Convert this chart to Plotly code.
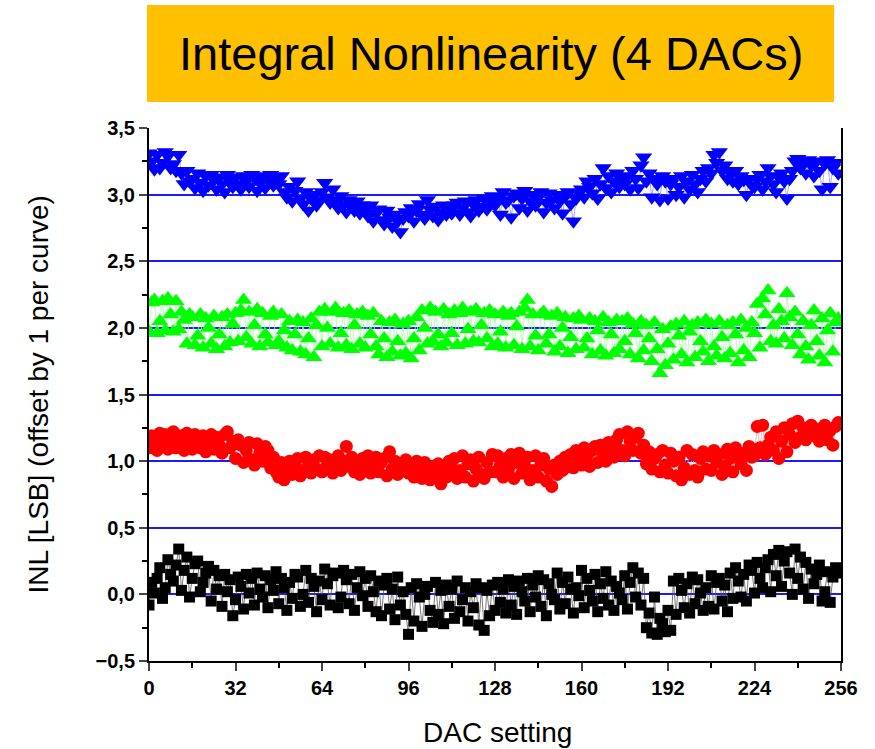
import plotly.graph_objects as go

dac = list(range(256))

inl_blue = [
    3.31, 3.25, 3.19, 3.30, 3.20, 3.24, 3.32, 3.29, 3.20, 3.23, 3.18, 3.30, 3.16, 3.08, 3.18, 3.10,
    3.12, 3.05, 3.16, 3.09, 3.03, 3.14, 3.07, 3.15, 3.11, 3.04, 3.13, 3.08, 3.02, 3.15, 3.10, 3.06,
    3.13, 3.08, 3.04, 3.14, 3.10, 3.06, 3.15, 3.12, 3.03, 3.09, 3.14, 3.05, 3.11, 3.15, 3.07, 3.13,
    3.08, 3.14, 3.02, 2.98, 3.06, 2.95, 3.03, 3.10, 2.97, 2.93, 3.02, 2.88, 2.97, 3.00, 2.92, 2.96,
    3.02, 3.09, 2.98, 2.94, 3.04, 2.96, 2.90, 2.99, 2.93, 2.87, 2.96, 2.91, 2.88, 2.95, 2.86, 2.92,
    2.88, 2.84, 2.92, 2.80, 2.86, 2.89, 2.81, 2.78, 2.88, 2.83, 2.76, 2.85, 2.80, 2.72, 2.82, 2.87,
    2.84, 2.90, 2.80, 2.88, 2.93, 2.85, 2.82, 2.96, 2.89, 2.84, 2.91, 2.81, 2.87, 2.92, 2.85, 2.89,
    2.86, 2.92, 2.94, 2.85, 2.90, 2.95, 2.87, 2.84, 2.93, 2.96, 2.88, 2.91, 2.97, 2.89, 2.94, 2.99,
    2.92, 2.98, 2.85, 3.02, 2.94, 2.96, 2.83, 2.99, 3.01, 2.90, 2.97, 3.03, 2.88, 2.95, 3.00, 2.92,
    2.98, 3.02, 2.87, 2.94, 3.01, 2.96, 2.90, 3.00, 2.95, 2.86, 2.99, 3.02, 2.93, 2.80, 2.97, 3.01,
    3.04, 2.98, 3.10, 3.06, 3.01, 3.12, 2.97, 3.08, 3.20, 3.05, 3.14, 3.02, 3.10, 3.16, 3.06, 3.12,
    3.08, 3.14, 3.04, 3.18, 3.12, 3.05, 3.22, 3.28, 3.10, 3.16, 2.98, 3.12, 3.08, 2.96, 3.14, 3.10,
    2.97, 3.08, 3.12, 3.00, 3.06, 3.14, 2.98, 3.10, 3.04, 3.15, 3.08, 3.02, 3.12, 3.18, 3.10, 3.20,
    3.16, 3.30, 3.24, 3.32, 3.18, 3.22, 3.12, 3.16, 3.10, 3.18, 3.08, 3.14, 3.11, 3.00, 3.12, 3.07,
    3.06, 3.12, 3.15, 3.04, 3.10, 3.20, 3.14, 3.08, 3.02, 3.13, 3.16, 3.10, 2.97, 3.12, 3.18, 3.25,
    3.27, 3.20, 3.24, 3.16, 3.26, 3.22, 3.14, 3.25, 3.18, 3.04, 3.23, 3.26, 3.06, 3.20, 3.24, 3.16,
]

inl_green = [
    1.97, 2.19, 2.21, 1.96, 2.05, 2.20, 1.98, 2.22, 2.10, 1.97, 2.20, 1.99, 2.12, 2.06, 1.88, 2.10,
    2.08, 1.87, 1.94, 2.10, 1.85, 2.07, 2.00, 1.88, 2.09, 1.84, 1.95, 2.08, 1.86, 2.10, 1.89, 2.03,
    2.11, 1.90, 2.13, 2.21, 1.93, 2.12, 1.88, 2.02, 2.14, 1.86, 2.11, 1.95, 1.89, 2.09, 2.12, 1.87,
    1.90, 2.10, 1.98, 1.85, 2.05, 1.83, 1.95, 2.06, 1.82, 2.04, 1.80, 1.92, 2.07, 1.78, 2.02, 2.12,
    1.86, 2.14, 2.00, 1.88, 2.12, 2.15, 1.85, 1.96, 2.11, 1.87, 2.13, 1.84, 2.02, 2.10, 1.88, 2.12,
    1.85, 2.09, 1.95, 2.11, 1.86, 1.80, 2.05, 1.92, 1.78, 2.04, 1.82, 2.06, 1.90, 1.79, 2.03, 1.81,
    2.05, 1.77, 1.92, 2.08, 1.83, 2.13, 2.00, 1.88, 2.15, 1.90, 2.12, 1.95, 1.86, 2.14, 1.89, 2.10,
    1.96, 2.13, 1.87, 2.11, 2.15, 1.88, 1.99, 2.12, 1.90, 2.14, 1.89, 2.02, 2.11, 1.92, 2.13, 1.86,
    2.10, 1.88, 1.97, 2.12, 1.85, 2.09, 2.11, 1.87, 2.01, 2.12, 1.84, 2.15, 2.21, 1.86, 2.10, 1.94,
    1.83, 2.10, 2.12, 1.88, 1.95, 2.09, 1.82, 2.11, 1.86, 2.00, 2.08, 1.81, 1.93, 2.07, 1.84, 2.09,
    2.06, 1.85, 1.92, 2.07, 1.80, 2.05, 1.98, 1.83, 2.08, 1.79, 2.04, 1.95, 1.81, 2.06, 1.84, 2.05,
    1.90, 2.07, 1.80, 2.03, 1.96, 1.77, 2.05, 1.83, 2.02, 1.92, 1.75, 2.04, 1.84, 1.66, 1.99, 1.72,
    1.88, 2.01, 1.76, 2.03, 1.94, 1.80, 2.05, 1.74, 1.97, 2.02, 1.78, 2.04, 1.90, 1.82, 2.06, 1.75,
    2.03, 1.86, 1.79, 2.05, 1.93, 1.77, 2.02, 1.81, 2.04, 1.95, 1.74, 2.06, 1.83, 2.00, 1.78, 2.04,
    1.96, 2.18, 1.85, 2.22, 2.10, 2.28, 1.90, 2.02, 1.88, 2.14, 2.05, 1.92, 2.26, 2.08, 1.87, 2.12,
    1.95, 1.80, 2.05, 1.86, 1.76, 2.02, 2.13, 1.90, 1.79, 2.07, 1.74, 1.98, 2.11, 1.82, 2.04, 2.07,
]

inl_red = [
    1.10, 1.19, 1.15, 1.08, 1.21, 1.12, 1.20, 1.09, 1.17, 1.22, 1.10, 1.14, 1.19, 1.08, 1.21, 1.13,
    1.09, 1.20, 1.16, 1.10, 1.19, 1.07, 1.13, 1.20, 1.09, 1.18, 1.12, 1.06, 1.20, 1.22, 1.10, 1.15,
    1.02, 1.16, 1.12, 0.99, 1.08, 1.14, 1.01, 0.97, 1.13, 1.06, 1.00, 1.11, 1.08, 0.95, 1.03, 0.92,
    0.88, 0.99, 0.86, 0.95, 1.00, 0.90, 0.96, 1.02, 0.89, 0.93, 1.03, 0.97, 0.91, 1.01, 0.94, 1.04,
    0.92, 1.03, 0.97, 1.01, 0.91, 0.95, 1.04, 0.93, 1.00, 1.11, 0.96, 1.03, 0.92, 0.99, 0.90, 1.02,
    0.97, 1.04, 0.91, 0.95, 1.03, 0.92, 0.99, 1.02, 0.89, 1.07, 0.94, 1.00, 0.90, 0.97, 0.93, 1.01,
    0.91, 0.97, 0.88, 1.00, 0.94, 0.87, 0.99, 0.92, 0.86, 0.96, 0.89, 0.98, 0.83, 0.93, 0.88, 1.00,
    0.95, 1.02, 0.87, 0.93, 1.04, 0.88, 0.98, 1.01, 0.85, 0.94, 1.03, 0.90, 0.87, 0.99, 0.92, 1.05,
    0.92, 1.04, 0.97, 0.88, 1.02, 0.94, 1.05, 0.87, 0.99, 1.06, 0.91, 0.96, 1.03, 0.86, 0.93, 1.04,
    0.88, 0.97, 1.02, 0.85, 0.94, 0.81, 0.97, 0.90, 1.00, 0.93, 1.03, 0.96, 1.05, 0.95, 1.08, 1.01,
    0.97, 1.10, 1.04, 0.96, 1.08, 1.11, 0.99, 1.12, 1.05, 1.00, 1.14, 1.09, 1.03, 1.16, 1.20, 1.08,
    1.04, 1.22, 1.15, 1.08, 1.18, 1.21, 1.06, 1.12, 0.98, 1.07, 0.94, 1.02, 1.05, 0.92, 1.08, 0.97,
    0.91, 1.06, 1.00, 0.89, 1.03, 0.86, 0.95, 1.08, 0.90, 1.05, 0.93, 0.88, 1.02, 1.07, 0.94, 1.04,
    0.93, 1.08, 0.99, 1.05, 0.90, 0.96, 1.09, 1.02, 0.92, 1.10, 1.04, 0.98, 1.06, 0.93, 1.11, 1.03,
    1.04, 1.26, 1.10, 1.27, 1.05, 1.12, 1.18, 1.08, 1.22, 1.02, 1.15, 1.25, 1.07, 1.20, 1.28, 1.14,
    1.30, 1.18, 1.25, 1.16, 1.22, 1.27, 1.19, 1.24, 1.15, 1.21, 1.27, 1.16, 1.23, 1.12, 1.26, 1.29,
]

inl_black = [
    -0.08, 0.09, 0.01, 0.12, 0.20, -0.03, 0.05, 0.26, 0.15, 0.10, 0.22, 0.34, 0.03, 0.18, 0.28, -0.02,
    0.12, 0.23, 0.25, 0.02, 0.09, 0.16, 0.21, -0.05, 0.18, 0.04, 0.14, -0.09, 0.15, 0.02, 0.11, -0.16,
    -0.04, 0.13, 0.06, -0.11, 0.15, 0.01, 0.12, -0.08, 0.16, 0.04, -0.02, 0.14, -0.10, 0.11, 0.03, 0.17,
    -0.07, 0.12, 0.05, -0.12, 0.09, -0.03, 0.15, 0.13, -0.09, 0.00, 0.18, -0.06, 0.12, 0.06, -0.13, 0.10,
    -0.04, 0.19, 0.08, -0.08, 0.14, 0.16, -0.10, -0.02, 0.18, 0.11, -0.07, 0.15, -0.12, 0.05, 0.17, -0.01,
    0.12, -0.09, 0.14, 0.02, -0.13, 0.10, -0.16, 0.07, 0.12, -0.11, 0.04, -0.19, 0.13, -0.08, 0.02, -0.15,
    -0.30, 0.05, -0.20, 0.08, -0.02, -0.24, 0.00, 0.06, -0.12, -0.21, 0.09, -0.15, 0.03, -0.22, 0.07, -0.09,
    0.04, -0.18, 0.10, -0.13, -0.04, 0.05, -0.20, 0.02, -0.10, 0.08, -0.23, 0.05, -0.27, 0.03, -0.16, 0.07,
    -0.12, 0.09, -0.06, 0.04, -0.14, 0.11, -0.08, 0.06, -0.15, 0.10, 0.02, -0.05, 0.12, -0.13, 0.07, -0.02,
    0.14, -0.09, 0.11, -0.16, 0.08, 0.00, -0.04, 0.16, -0.11, 0.09, -0.07, 0.13, 0.04, -0.14, 0.05, -0.01,
    0.18, -0.10, 0.12, 0.03, -0.05, 0.15, -0.13, 0.08, -0.03, 0.17, -0.08, 0.10, -0.12, 0.06, 0.01, -0.04,
    0.14, -0.11, 0.09, 0.20, -0.02, 0.16, -0.08, 0.12, -0.25, -0.14, -0.29, -0.02, -0.30, -0.18, -0.22, -0.28,
    -0.12, -0.27, 0.10, -0.15, 0.12, 0.03, -0.10, 0.08, -0.14, 0.13, -0.07, 0.11, 0.01, -0.12, 0.05, -0.09,
    0.14, -0.11, 0.09, 0.12, -0.05, 0.07, -0.13, 0.16, -0.03, 0.20, 0.10, -0.02, 0.15, -0.05, 0.22, 0.18,
    0.01, 0.24, 0.12, 0.05, 0.20, 0.26, 0.02, 0.30, 0.14, 0.33, 0.06, 0.25, 0.32, 0.16, 0.00, 0.34,
    0.12, 0.28, 0.04, 0.24, -0.03, 0.19, 0.08, 0.15, 0.22, -0.05, 0.02, 0.17, -0.06, 0.13, 0.20, 0.16,
]

x_ticks = [0, 32, 64, 96, 128, 160, 192, 224, 256]
y_ticks = [-0.5, 0.0, 0.5, 1.0, 1.5, 2.0, 2.5, 3.0, 3.5]
title_text = "Integral Nonlinearity (4 DACs)"
x_title = "DAC setting"
y_title = "INL [LSB] (offset by 1 per curve)"

series = [
    (inl_black, "square", "#000000", "#555555", 11),
    (inl_red, "circle", "#ff0000", "#ffa0a0", 13),
    (inl_green, "triangle-up", "#00ff00", "#a0ffa0", 15),
    (inl_blue, "triangle-down", "#0000ff", "#9090ff", 15),
]

fig = go.Figure()
for vals, sym, col, lcol, sz in series:
    fig.add_trace(go.Scatter(
        x=dac, y=vals, mode="lines+markers",
        line=dict(color=lcol, width=0.8),
        marker=dict(symbol=sym, color=col, size=sz, line=dict(width=0)),
        showlegend=False,
    ))

font_family = "Arial, Liberation Sans, sans-serif"

fig.update_layout(
    width=875, height=749,
    margin=dict(l=149, r=34, t=128, b=88),
    paper_bgcolor="white", plot_bgcolor="white",
    separators=",.",
    font=dict(family=font_family, color="black"),
    xaxis=dict(
        range=[0, 256], tickvals=x_ticks, ticks="outside", ticklen=8, tickwidth=2,
        showline=True, linecolor="black", linewidth=2, showgrid=False, zeroline=False,
        tickfont=dict(size=20, family=font_family, weight="bold"),
        minor=dict(dtick=16, ticks="outside", ticklen=5, tickwidth=1.5, tickcolor="black",
                   showgrid=False),
    ),
    yaxis=dict(
        range=[-0.5, 3.5], tickvals=y_ticks, tickformat=".1f", ticks="outside", ticklen=8, tickwidth=2,
        showline=True, linecolor="black", linewidth=2, mirror=True,
        showgrid=True, gridcolor="#1a1aff", gridwidth=1.5, zeroline=False,
        tickfont=dict(size=20, family=font_family, weight="bold"),
        minor=dict(dtick=0.25, ticks="outside", ticklen=5, tickwidth=1.5, tickcolor="black",
                   showgrid=False),
    ),
    shapes=[dict(
        type="rect", xref="paper", yref="paper",
        x0=-0.003, x1=0.990, y0=1.0488, y1=1.2308,
        fillcolor="#ffc000", line=dict(width=0), layer="below",
    )],
    annotations=[
        dict(text=title_text, xref="paper", yref="paper", x=0.4935, y=1.14,
             showarrow=False, font=dict(size=47, family=font_family, color="black"),
             xanchor="center", yanchor="middle"),
        dict(text=x_title, xref="paper", yref="paper", x=0.503, y=-0.135,
             showarrow=False, font=dict(size=28, family=font_family, color="black"),
             xanchor="center", yanchor="middle"),
        dict(text=y_title, xref="paper", yref="paper", x=-0.1604, y=0.5, textangle=-90,
             showarrow=False, font=dict(size=28, family=font_family, color="black"),
             xanchor="center", yanchor="middle"),
    ],
)

fig.write_html("out.html")
